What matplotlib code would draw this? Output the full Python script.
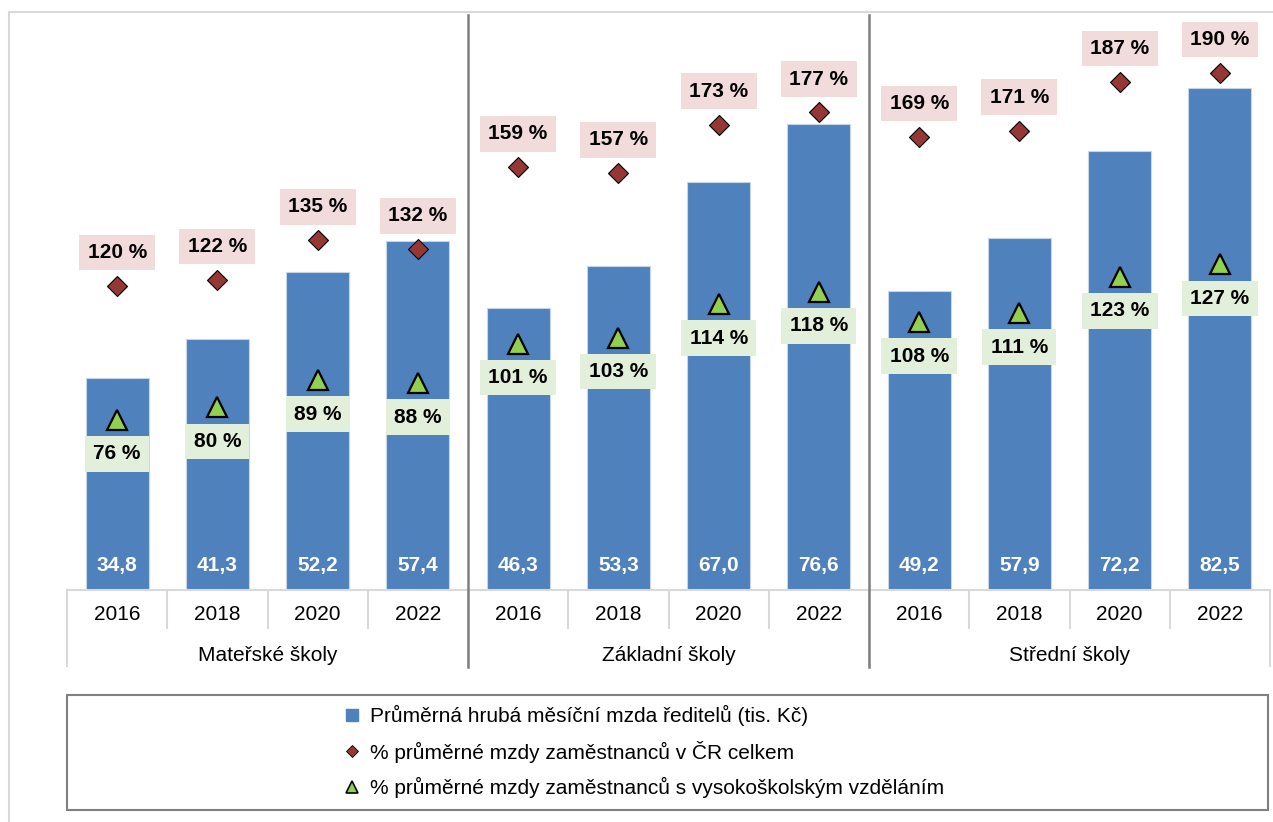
import matplotlib.pyplot as plt
from matplotlib.lines import Line2D
from matplotlib.patches import Rectangle
import matplotlib.transforms as mtransforms

plt.rcParams["font.family"] = ["Liberation Sans", "DejaVu Sans"]

# Data
groups = ["Mateřské školy", "Základní školy", "Střední školy"]
years = ["2016", "2018", "2020", "2022"]
mzda = [34.8, 41.3, 52.2, 57.4, 46.3, 53.3, 67.0, 76.6, 49.2, 57.9, 72.2, 82.5]
pct_cr = [120, 122, 135, 132, 159, 157, 173, 177, 169, 171, 187, 190]
pct_vs = [76, 80, 89, 88, 101, 103, 114, 118, 108, 111, 123, 127]

legend_labels = [
    "Průměrná hrubá měsíční mzda ředitelů (tis. Kč)",
    "% průměrné mzdy zaměstnanců v ČR celkem",
    "% průměrné mzdy zaměstnanců s vysokoškolským vzděláním",
]

BLUE = "#4f81bd"
RED = "#953735"
GREEN = "#92d050"
PINK = "#f2dcdb"
LGREEN = "#e2efda"
FS = 15

W, H = 1273, 822
fig = plt.figure(figsize=(W / 100, H / 100), dpi=100)

# outer chart frame (top and left edges visible)
fig.add_artist(Line2D([9 / W, 1], [1 - 12 / H, 1 - 12 / H], color="#d9d9d9", lw=1.5,
                      transform=fig.transFigure))
fig.add_artist(Line2D([9 / W, 9 / W], [0, 1 - 12 / H], color="#d9d9d9", lw=1.5,
                      transform=fig.transFigure))

ax = fig.add_axes([67 / W, 1 - 590 / H, (1270 - 67) / W, 578 / H])
ax2 = ax.twinx()

x = list(range(len(mzda)))
ax.bar(x, mzda, width=0.63, color=BLUE, edgecolor="#c6d5ea", linewidth=0.8, zorder=2)
ax.set_xlim(-0.5, len(mzda) - 0.5)
ax.set_ylim(0, 95)
ax2.set_ylim(20, 210)

for a in (ax, ax2):
    for s in a.spines.values():
        s.set_visible(False)
    a.set_yticks([])
    a.set_xticks([])
ax.spines["bottom"].set_visible(True)
ax.spines["bottom"].set_color("#d9d9d9")
ax.spines["bottom"].set_linewidth(1.5)

ax2.plot(x, pct_cr, linestyle="none", marker="D", markersize=10, color=RED,
         markeredgecolor="black", markeredgewidth=0.8, zorder=4)
ax2.plot(x, pct_vs, linestyle="none", marker="^", markersize=15, color=GREEN,
         markeredgecolor="black", markeredgewidth=1.6, zorder=4)

trans = mtransforms.blended_transform_factory(ax.transData, ax.transAxes)

for i in x:
    ax.text(i, 24 / 578, f"{mzda[i]:.1f}".replace(".", ","), transform=trans,
            ha="center", va="center", color="white", fontsize=FS, fontweight="bold", zorder=5)
    ax2.annotate(f"{pct_cr[i]} %", (i, pct_cr[i]), xytext=(0, 24), textcoords="offset points",
                 ha="center", va="center", fontsize=FS, fontweight="bold", zorder=5,
                 bbox=dict(boxstyle="square,pad=0.4", fc=PINK, ec="none"))
    ax2.annotate(f"{pct_vs[i]} %", (i, pct_vs[i]), xytext=(0, -24.5), textcoords="offset points",
                 ha="center", va="center", fontsize=FS, fontweight="bold", zorder=5,
                 bbox=dict(boxstyle="square,pad=0.4", fc=LGREEN, ec="none"))
    # year labels
    ax.text(i, -24 / 578, years[i % 4], transform=trans, ha="center", va="center", fontsize=FS)

# category table lines
for b in range(len(mzda) + 1):
    xb = b - 0.5
    depth = -76 / 578 if b % 4 == 0 else -38 / 578
    ax.add_line(Line2D([xb, xb], [0, depth], transform=trans, color="#d9d9d9",
                       lw=1.5, clip_on=False))

# group labels and separators
for g, name in enumerate(groups):
    ax.text(g * 4 + 1.5, -65 / 578, name, transform=trans, ha="center", va="center", fontsize=FS)
for g in (1, 2):
    ax.add_line(Line2D([g * 4 - 0.5] * 2, [575 / 578, -77 / 578], transform=trans,
                       color="#7f7f7f", lw=1.8, clip_on=False, zorder=6))

# legend box
fig.add_artist(Rectangle((67 / W, 1 - 810 / H), (1268 - 67) / W, 115 / H,
                         transform=fig.transFigure, fill=False, ec="#808080", lw=1.5))
handles = [
    Line2D([], [], linestyle="none", marker="s", markersize=8, color=BLUE),
    Line2D([], [], linestyle="none", marker="D", markersize=6, color=RED,
           markeredgecolor="black", markeredgewidth=0.6),
    Line2D([], [], linestyle="none", marker="^", markersize=9, color=GREEN,
           markeredgecolor="black", markeredgewidth=1.2),
]
fig.legend(handles, legend_labels, loc="upper left", bbox_to_anchor=(325 / W, 1 - 686 / H),
           frameon=False, fontsize=FS, handlelength=0.8, handletextpad=0.45,
           labelspacing=0.71, borderpad=0.4)

fig.savefig("out.png", dpi=100)
